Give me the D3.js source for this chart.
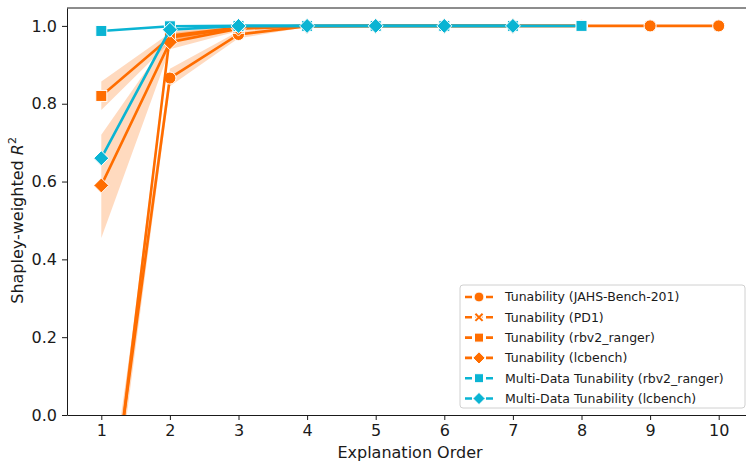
<!DOCTYPE html>
<html>
<head>
<meta charset="utf-8">
<script src="https://cdn.jsdelivr.net/npm/d3@7"></script>
<style>
  body { margin: 0; background: #fff; }
  svg { font-family: "DejaVu Sans", sans-serif; display: block; }
</style>
</head>
<body>
<div id="chart"></div>
<script>
// data
var orders = [1, 2, 3, 4, 5, 6, 7, 8, 9, 10];
var yTicks = [0.0, 0.2, 0.4, 0.6, 0.8, 1.0];

var jahsMean = [-0.43, 0.866, 0.978, 0.999, 1.0, 1.0, 1.0, 1.0, 1.0, 1.0];
var jahsLow  = [-0.50, 0.845, 0.968, 0.997, 1.0, 1.0, 1.0, 1.0, 1.0, 1.0];
var jahsHigh = [-0.36, 0.890, 0.986, 1.0, 1.0, 1.0, 1.0, 1.0, 1.0, 1.0];

var pd1Mean = [-0.48, 0.975, 0.996, 1.0];
var pd1Low  = [-0.53, 0.964, 0.992, 0.999];
var pd1High = [-0.43, 0.986, 0.999, 1.0];

var rbv2Mean = [0.82, 0.970, 0.995, 1.0, 1.0, 1.0, 1.0, 1.0];
var rbv2Low  = [0.784, 0.958, 0.990, 0.999, 1.0, 1.0, 1.0, 1.0];
var rbv2High = [0.857, 0.982, 0.999, 1.0, 1.0, 1.0, 1.0, 1.0];

var lcMean = [0.59, 0.958, 0.993, 0.999, 1.0, 1.0, 1.0];
var lcLow  = [0.455, 0.940, 0.987, 0.998, 1.0, 1.0, 1.0];
var lcHigh = [0.720, 0.973, 0.998, 1.0, 1.0, 1.0, 1.0];

var multiRbv2 = [0.987, 0.999, 1.0, 1.0, 1.0, 1.0, 1.0, 1.0];
var multiLc   = [0.66, 0.990, 1.0, 1.0, 1.0, 1.0, 1.0];

var orange = "#ff6d00";
var cyan = "#0ab4d3";

var series = [
  { name: "Tunability (JAHS-Bench-201)", mean: jahsMean, low: jahsLow, high: jahsHigh, color: orange, marker: "circle" },
  { name: "Tunability (PD1)", mean: pd1Mean, low: pd1Low, high: pd1High, color: orange, marker: "x" },
  { name: "Tunability (rbv2_ranger)", mean: rbv2Mean, low: rbv2Low, high: rbv2High, color: orange, marker: "square" },
  { name: "Tunability (lcbench)", mean: lcMean, low: lcLow, high: lcHigh, color: orange, marker: "diamond" },
  { name: "Multi-Data Tunability (rbv2_ranger)", mean: multiRbv2, color: cyan, marker: "square" },
  { name: "Multi-Data Tunability (lcbench)", mean: multiLc, color: cyan, marker: "diamond" }
];

var svgWidth = 746;
var svgHeight = 461;
var margin = { top: 8, right: -7, bottom: 46, left: 67 };
var width = svgWidth - margin.left - margin.right;
var height = svgHeight - margin.top - margin.bottom;

var svg = d3.select("#chart").append("svg")
  .attr("width", svgWidth)
  .attr("height", svgHeight);

var chartGroup = svg.append("g")
  .attr("transform", `translate(${margin.left}, ${margin.top})`);

var xScale = d3.scaleLinear().domain([0.5, 10.5]).range([0, width]);
var yScale = d3.scaleLinear().domain([0, 1.046]).range([height, 0]);

svg.append("defs").append("clipPath").attr("id", "plotClip")
  .append("rect").attr("width", width).attr("height", height);

// axes
var bottomAxis = d3.axisBottom(xScale).tickValues(orders).tickFormat(d3.format("d"))
  .tickSizeInner(5).tickSizeOuter(0).tickPadding(5);
var leftAxis = d3.axisLeft(yScale).tickValues(yTicks).tickFormat(d3.format(".1f"))
  .tickSizeInner(5).tickSizeOuter(0).tickPadding(5);

var xg = chartGroup.append("g").attr("transform", `translate(0, ${height})`).call(bottomAxis);
var yg = chartGroup.append("g").call(leftAxis);
[xg, yg].forEach(function(g) {
  g.selectAll("text").attr("font-size", 16).attr("fill", "#1a1a1a").attr("font-family", "DejaVu Sans");
  g.selectAll("line").attr("stroke", "#1a1a1a").attr("stroke-width", 1);
  g.select(".domain").attr("stroke", "#1a1a1a").attr("stroke-width", 1);
});

// top spine
chartGroup.append("line")
  .attr("x1", 0).attr("x2", width).attr("y1", 0).attr("y2", 0)
  .attr("stroke", "#1a1a1a").attr("stroke-width", 1);

var plot = chartGroup.append("g").attr("clip-path", "url(#plotClip)");

// confidence bands
var area = d3.area()
  .x(function(d) { return xScale(d.x); })
  .y0(function(d) { return yScale(d.lo); })
  .y1(function(d) { return yScale(d.hi); });

series.forEach(function(s) {
  if (!s.low) return;
  var pts = s.mean.map(function(v, i) { return { x: orders[i], lo: s.low[i], hi: s.high[i] }; });
  plot.append("path").datum(pts)
    .attr("d", area)
    .attr("fill", s.color)
    .attr("fill-opacity", 0.25);
});

var line = d3.line()
  .x(function(d) { return xScale(d.x); })
  .y(function(d) { return yScale(d.y); });

function drawMarker(g, type, color, size) {
  if (type === "circle") {
    g.append("circle").attr("r", size * 0.55).attr("fill", color).attr("stroke", "#fff").attr("stroke-width", 1);
  } else if (type === "square") {
    var h = size * 0.5;
    g.append("rect").attr("x", -h).attr("y", -h).attr("width", 2 * h).attr("height", 2 * h)
      .attr("fill", color).attr("stroke", "#fff").attr("stroke-width", 1);
  } else if (type === "diamond") {
    var d = size * 0.68;
    g.append("path").attr("d", `M0,${-d}L${d},0L0,${d}L${-d},0Z`)
      .attr("fill", color).attr("stroke", "#fff").attr("stroke-width", 1);
  } else if (type === "x") {
    var a = size * 0.4;
    g.append("path").attr("d", `M${-a},${-a}L${a},${a}M${-a},${a}L${a},${-a}`)
      .attr("stroke", "#fff").attr("stroke-width", 4);
    g.append("path").attr("d", `M${-a},${-a}L${a},${a}M${-a},${a}L${a},${-a}`)
      .attr("stroke", color).attr("stroke-width", 2);
  }
}

series.forEach(function(s) {
  var pts = s.mean.map(function(v, i) { return { x: orders[i], y: v }; });
  plot.append("path").datum(pts)
    .attr("d", line)
    .attr("fill", "none")
    .attr("stroke", s.color)
    .attr("stroke-width", 2.6);
  pts.forEach(function(p) {
    var g = plot.append("g").attr("transform", `translate(${xScale(p.x)}, ${yScale(p.y)})`);
    drawMarker(g, s.marker, s.color, 11);
  });
});

// axis labels
chartGroup.append("text")
  .attr("transform", `translate(${xScale(5.5)}, ${height + 43})`)
  .attr("text-anchor", "middle")
  .attr("font-size", 16)
  .attr("fill", "#1a1a1a")
  .text("Explanation Order");

var yLab = svg.append("text")
  .attr("transform", `translate(23, ${margin.top + yScale(0.5)}) rotate(-90)`)
  .attr("text-anchor", "middle")
  .attr("font-size", 16)
  .attr("fill", "#1a1a1a");
yLab.append("tspan").text("Shapley-weighted ");
yLab.append("tspan").attr("font-style", "italic").text("R");
yLab.append("tspan").attr("font-size", 11).attr("dy", -7).text("2");

// legend
var legend = svg.append("g").attr("transform", "translate(460, 285)");
legend.append("rect")
  .attr("width", 285).attr("height", 123)
  .attr("rx", 3)
  .attr("fill", "#fff").attr("fill-opacity", 0.8)
  .attr("stroke", "#d0d0d0").attr("stroke-width", 1);

series.forEach(function(s, i) {
  var row = legend.append("g").attr("transform", `translate(0, ${12 + i * 20.3})`);
  row.append("line").attr("x1", 5).attr("x2", 33).attr("y1", 0).attr("y2", 0)
    .attr("stroke", s.color).attr("stroke-width", 2.6).attr("stroke-dasharray", "7,3.5");
  var m = row.append("g").attr("transform", "translate(19, 0)");
  drawMarker(m, s.marker, s.color, 9);
  row.append("text").attr("x", 45).attr("y", 0).attr("dy", "0.35em")
    .attr("font-size", 12.5).attr("fill", "#1a1a1a")
    .text(s.name);
});
</script>
</body>
</html>
